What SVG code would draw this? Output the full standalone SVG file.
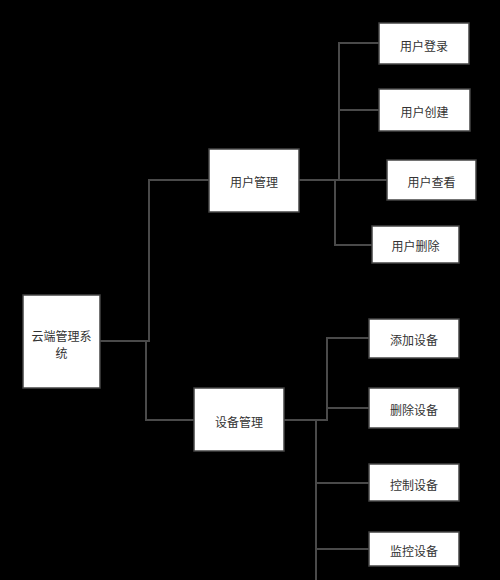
<svg xmlns="http://www.w3.org/2000/svg" width="500" height="580" viewBox="0 0 500 580">
<style>
.box{fill:#ffffff;stroke:#444444;stroke-width:1.5}
.lbl{font-family:"Noto Sans CJK SC","Noto Sans",sans-serif;font-size:12px;fill:#333333;text-anchor:middle;dominant-baseline:central}
.ln{fill:none;stroke:#4a4a4a;stroke-width:2}
</style>
<rect x="0" y="0" width="500" height="580" fill="#000000"/>
<g id="connectors">
<polyline class="ln" points="100,341 149,341 149,180 209,180"/>
<polyline class="ln" points="146,341 146,420 194,420"/>
<polyline class="ln" points="299,180 387,180"/>
<polyline class="ln" points="339,180 339,43 379,43"/>
<polyline class="ln" points="339,110 379,110"/>
<polyline class="ln" points="335,180 335,245 372,245"/>
<polyline class="ln" points="284,420 327,420 327,338 369,338"/>
<polyline class="ln" points="327,408 369,408"/>
<polyline class="ln" points="316,420 316,580"/>
<polyline class="ln" points="316,483 369,483"/>
<polyline class="ln" points="316,549 369,549"/>
</g>
<g id="root"><rect class="box" x="23" y="295" width="77" height="93"/><text class="lbl" x="61.5" y="335">云端管理系</text><text class="lbl" x="61.5" y="352">统</text></g>
<g id="user-mgmt"><rect class="box" x="209" y="149" width="90" height="63"/><text class="lbl" x="254" y="181">用户管理</text></g>
<g id="device-mgmt"><rect class="box" x="194" y="388" width="90" height="63"/><text class="lbl" x="239" y="421">设备管理</text></g>
<g id="user-login"><rect class="box" x="379" y="23" width="90" height="41"/><text class="lbl" x="424" y="45">用户登录</text></g>
<g id="user-create"><rect class="box" x="379" y="89" width="91" height="42"/><text class="lbl" x="424.5" y="111">用户创建</text></g>
<g id="user-view"><rect class="box" x="387" y="160" width="89" height="40"/><text class="lbl" x="431.5" y="181">用户查看</text></g>
<g id="user-delete"><rect class="box" x="372" y="226" width="87" height="37"/><text class="lbl" x="415.5" y="245">用户删除</text></g>
<g id="add-device"><rect class="box" x="369" y="319" width="90" height="39"/><text class="lbl" x="414" y="339">添加设备</text></g>
<g id="delete-device"><rect class="box" x="369" y="388" width="90" height="40"/><text class="lbl" x="414" y="409">删除设备</text></g>
<g id="control-device"><rect class="box" x="369" y="464" width="90" height="37"/><text class="lbl" x="414" y="484">控制设备</text></g>
<g id="monitor-device"><rect class="box" x="369" y="532" width="90" height="34"/><text class="lbl" x="414" y="550">监控设备</text></g>
</svg>
